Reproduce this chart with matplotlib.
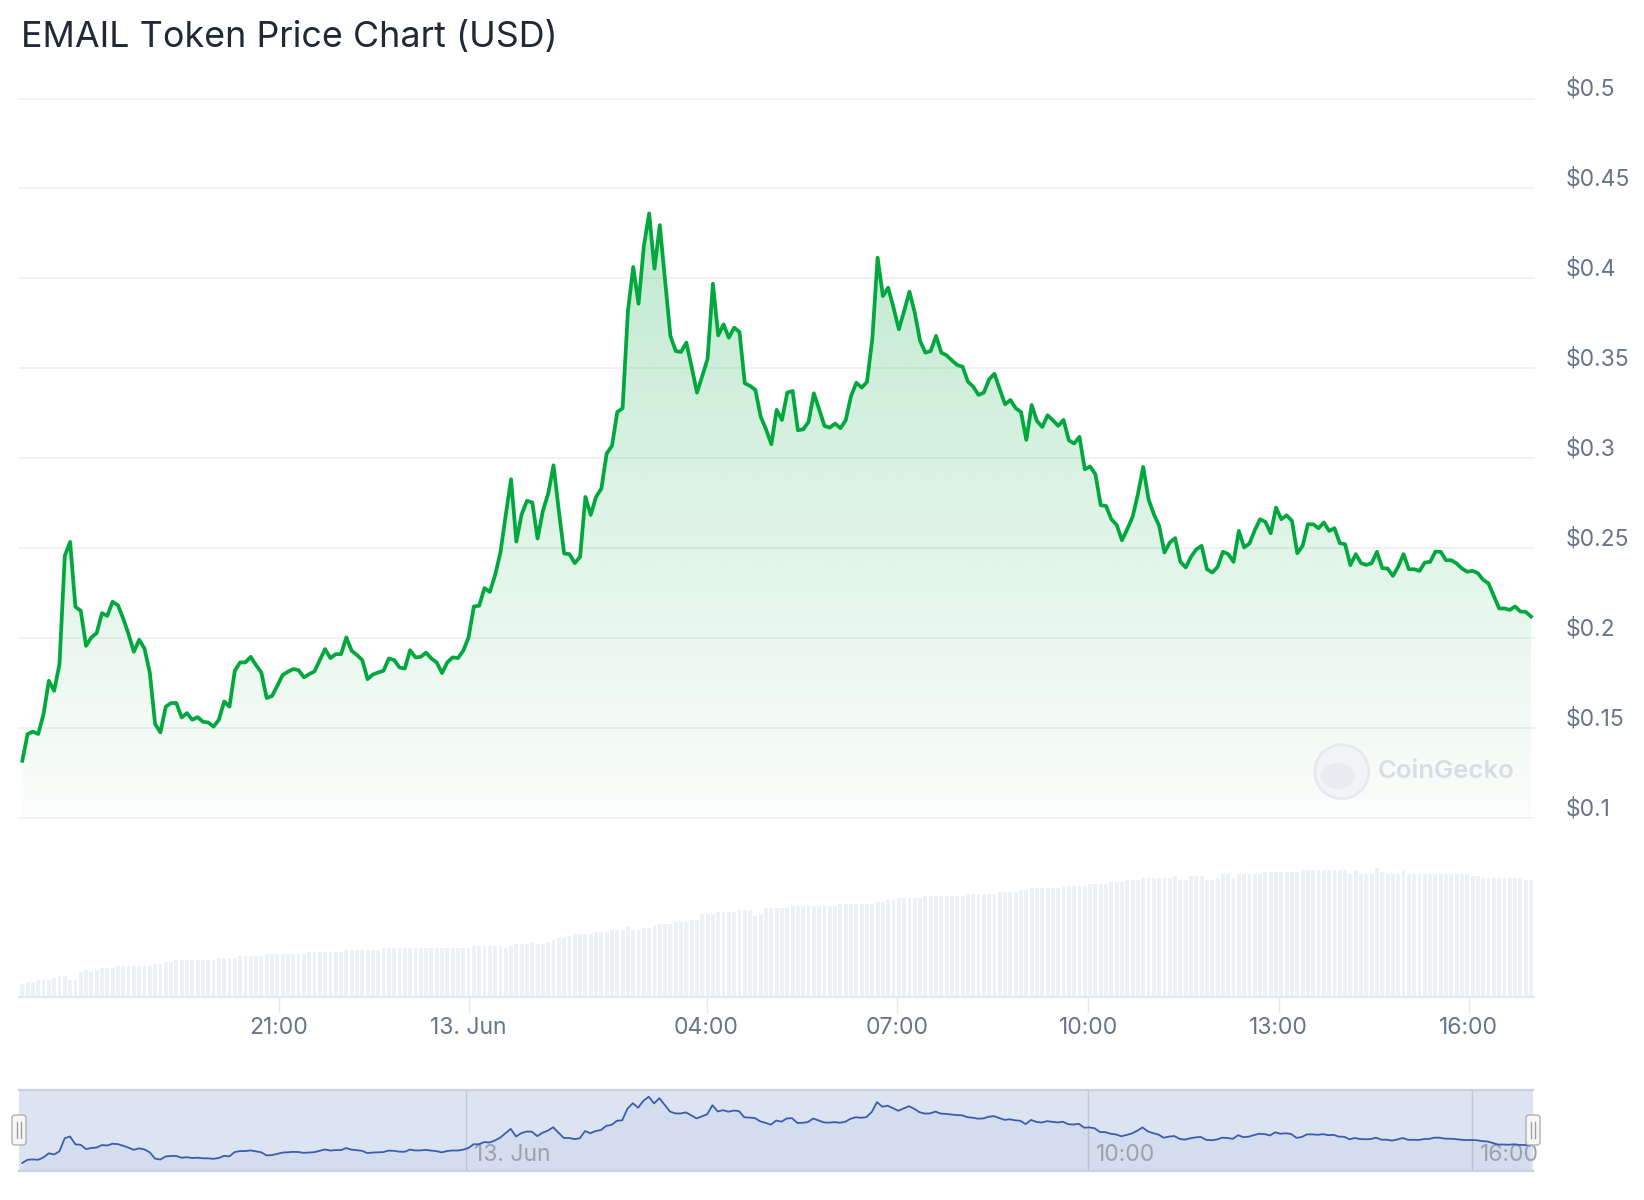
import numpy as np
import matplotlib
matplotlib.use('Agg')
import matplotlib.pyplot as plt
from matplotlib.patches import Rectangle, Ellipse, FancyBboxPatch
from matplotlib.lines import Line2D

plt.rcParams['font.family'] = ['Inter', 'DejaVu Sans']

TITLE = 'EMAIL Token Price Chart (USD)'

# 5-minute prices (USD)
price = [
    0.1318, 0.1467, 0.1480, 0.1467, 0.1578, 0.1763, 0.1707, 0.1856, 0.2457, 0.2535,
    0.2174, 0.2152, 0.1957, 0.2004, 0.2028, 0.2139, 0.2124, 0.2202, 0.2183, 0.2109,
    0.2022, 0.1924, 0.1991, 0.1942, 0.1809, 0.1522, 0.1476, 0.1619, 0.1639, 0.1639,
    0.1559, 0.1583, 0.1546, 0.1561, 0.1535, 0.1531, 0.1508, 0.1546, 0.1648, 0.1619,
    0.1819, 0.1865, 0.1865, 0.1896, 0.1850, 0.1809, 0.1667, 0.1678,
    0.1735, 0.1795, 0.1813, 0.1828, 0.1822, 0.1782, 0.1800, 0.1815, 0.1878, 0.1939,
    0.1889, 0.1911, 0.1911, 0.2004, 0.1930, 0.1906, 0.1878, 0.1772, 0.1798, 0.1809,
    0.1819, 0.1887, 0.1878, 0.1837, 0.1831, 0.1933, 0.1893, 0.1896, 0.1919, 0.1887,
    0.1865, 0.1806, 0.1865, 0.1893, 0.1889, 0.1930, 0.2004, 0.2176, 0.2180, 0.2278,
    0.2257, 0.2350, 0.2476, 0.2683, 0.2883, 0.2537, 0.2689, 0.2763,
    0.2754, 0.2554, 0.2708, 0.2804, 0.2961, 0.2708, 0.2470, 0.2467, 0.2417, 0.2452,
    0.2785, 0.2685, 0.2785, 0.2831, 0.3026, 0.3069, 0.3257, 0.3278, 0.3818, 0.4063,
    0.3859, 0.4180, 0.4361, 0.4054, 0.4296, 0.3985, 0.3680, 0.3596, 0.3591, 0.3643,
    0.3507, 0.3365, 0.3457, 0.3554, 0.3970, 0.3683, 0.3744, 0.3670, 0.3726, 0.3702,
    0.3417, 0.3402, 0.3380, 0.3231, 0.3161, 0.3078, 0.3269,
    0.3213, 0.3365, 0.3374, 0.3156, 0.3161, 0.3202, 0.3361, 0.3272, 0.3180, 0.3170,
    0.3193, 0.3167, 0.3211, 0.3346, 0.3420, 0.3393, 0.3424, 0.3661, 0.4115, 0.3902,
    0.3948, 0.3837, 0.3717, 0.3819, 0.3926, 0.3809, 0.3652, 0.3587, 0.3596, 0.3680,
    0.3587, 0.3572, 0.3544, 0.3518, 0.3509, 0.3426, 0.3398, 0.3352, 0.3365, 0.3439,
    0.3470, 0.3383, 0.3300, 0.3324, 0.3278, 0.3257, 0.3102, 0.3296,
    0.3207, 0.3174, 0.3239, 0.3211, 0.3180, 0.3213, 0.3100, 0.3082, 0.3119, 0.2939,
    0.2954, 0.2911, 0.2739, 0.2735, 0.2661, 0.2630, 0.2544, 0.2606, 0.2674, 0.2800,
    0.2952, 0.2772, 0.2689, 0.2624, 0.2476, 0.2531, 0.2556, 0.2424, 0.2393, 0.2452,
    0.2494, 0.2513, 0.2383, 0.2365, 0.2396, 0.2480, 0.2467, 0.2424, 0.2596, 0.2504,
    0.2526, 0.2600, 0.2661, 0.2646, 0.2583, 0.2726, 0.2661, 0.2683,
    0.2652, 0.2472, 0.2513, 0.2633, 0.2633, 0.2611, 0.2643, 0.2596, 0.2611, 0.2528,
    0.2522, 0.2406, 0.2467, 0.2417, 0.2407, 0.2417, 0.2480, 0.2389, 0.2387, 0.2346,
    0.2398, 0.2467, 0.2383, 0.2383, 0.2374, 0.2420, 0.2424, 0.2481, 0.2480, 0.2433,
    0.2433, 0.2415, 0.2387, 0.2369, 0.2374, 0.2361, 0.2324, 0.2304, 0.2235, 0.2165,
    0.2165, 0.2157, 0.2176, 0.2148, 0.2146, 0.2120,
]

# volume per 5-minute bar (arbitrary units, no axis shown)
volume = [
    127, 147, 147, 167, 167, 167, 187, 207, 207, 167,
    167, 247, 267, 247, 267, 287, 287, 287, 307, 307,
    307, 307, 307, 307, 307, 327, 327, 347, 347, 367,
    367, 367, 367, 367, 367, 367, 367, 387, 387, 387,
    387, 407, 407, 407, 407, 407, 427, 427, 427, 427,
    427, 427, 427, 427, 447, 447, 447, 447, 447, 447,
    447, 467, 467, 467, 467, 467, 467, 467, 487, 487,
    487, 487, 487, 487, 487, 487, 487, 487, 487, 487,
    487, 487, 487, 487, 487, 507, 507, 507, 507, 507,
    507, 487, 507, 527, 527, 527, 547, 527, 527, 547,
    567, 587, 587, 607, 627, 627, 627, 627, 647, 647,
    647, 667, 667, 667, 707, 667, 667, 687, 687, 707,
    727, 727, 727, 747, 747, 747, 767, 767, 827, 827,
    827, 847, 847, 847, 847, 867, 867, 867, 807, 827,
    887, 887, 887, 887, 887, 907, 907, 907, 907, 907,
    907, 907, 907, 907, 927, 927, 927, 927, 927, 927,
    927, 947, 947, 967, 967, 987, 987, 987, 987, 987,
    1007, 1007, 1007, 1007, 1007, 1007, 1007, 1007, 1027, 1027,
    1027, 1027, 1027, 1027, 1047, 1047, 1047, 1047, 1067, 1067,
    1087, 1087, 1087, 1087, 1087, 1087, 1107, 1107, 1107, 1107,
    1107, 1127, 1127, 1127, 1127, 1147, 1147, 1147, 1167, 1167,
    1167, 1187, 1187, 1187, 1187, 1187, 1187, 1207, 1167, 1167,
    1207, 1207, 1207, 1167, 1167, 1187, 1227, 1227, 1187, 1227,
    1227, 1227, 1227, 1227, 1247, 1247, 1247, 1247, 1247, 1247,
    1247, 1267, 1267, 1267, 1267, 1267, 1267, 1267, 1267, 1267,
    1227, 1267, 1227, 1227, 1227, 1283, 1247, 1227, 1227, 1227,
    1267, 1227, 1227, 1227, 1227, 1227, 1227, 1227, 1227, 1227,
    1227, 1227, 1227, 1207, 1207, 1187, 1187, 1187, 1187, 1187,
    1187, 1187, 1187, 1167, 1167,
]

# axis labels (x positions are point indices on the ordinal axis)
x_tick_idx = [48.3, 84.0, 128.8, 164.6, 200.7, 236.5, 272.3]
x_tick_labels = ['21:00', '13. Jun', '04:00', '07:00', '10:00', '13:00', '16:00']
y_ticks = [0.1, 0.15, 0.2, 0.25, 0.3, 0.35, 0.4, 0.45, 0.5]
y_tick_labels = ['\\$0.1', '\\$0.15', '\\$0.2', '\\$0.25', '\\$0.3',
                 '\\$0.35', '\\$0.4', '\\$0.45', '\\$0.5']
nav_tick_idx = [83.6, 200.8, 273.1]
nav_tick_labels = ['13. Jun', '10:00', '16:00']

W, H = 1644, 1200
GREEN = '#00a83e'
LABEL = '#66758c'
GRID = '#eceff3'

fig = plt.figure(figsize=(W / 100, H / 100), dpi=100)
fig.patch.set_facecolor('white')

idx = np.arange(len(price))
xl = (-0.62, len(price) - 1 + 0.56)


def box(x0, y0, x1, y1):
    # pixel box (top-left origin) -> figure fraction rect
    return [x0 / W, 1 - y1 / H, (x1 - x0) / W, (y1 - y0) / H]


fig.text(21 / W, 1 - 37 / H, TITLE, fontsize=25.8, color='#1f2937',
         ha='left', va='center')

# ---- price pane
ax = fig.add_axes(box(19, 98.5, 1534, 818))
ax.set_axis_off()
for v in y_ticks:
    ax.axhline(v, color=GRID, lw=1.1, zorder=0, clip_on=False)

pmax = max(price)
grad = np.zeros((256, 1, 4))
grad[..., 0], grad[..., 1], grad[..., 2] = 0 / 255, 168 / 255, 62 / 255
grad[:, 0, 3] = np.linspace(0.25, 0.02, 256)
im = ax.imshow(grad, extent=[xl[0], xl[1], 0.1, pmax], origin='upper',
               aspect='auto', zorder=1, interpolation='bilinear')
poly = ax.fill_between(idx, price, 0.1, facecolor='none', edgecolor='none')
im.set_clip_path(poly.get_paths()[0], transform=ax.transData)
ax.plot(idx, price, color=GREEN, lw=2.7, solid_joinstyle='round', zorder=3)
ax.set_xlim(*xl)
ax.set_ylim(0.1, 0.5)

for v, lab in zip(y_ticks, y_tick_labels):
    ax.annotate(lab, xy=(1, v), xycoords=('axes fraction', 'data'),
                xytext=(22.5, 6.5), textcoords='offset points',
                ha='left', va='center', fontsize=16.5, color=LABEL,
                annotation_clip=False)

# watermark
fig.add_artist(Ellipse((1341.7 / W, 1 - 771.7 / H), 54 / W, 54 / H,
                       transform=fig.transFigure, facecolor='#f1f3f6',
                       edgecolor='#e4e8ed', lw=2, alpha=0.9))
fig.add_artist(Ellipse((1338 / W, 1 - 776 / H), 34 / W, 26 / H,
                       transform=fig.transFigure, facecolor='#e8ecf0',
                       edgecolor='none', alpha=0.9))
fig.text(1378 / W, 1 - 771 / H, 'CoinGecko', fontsize=18.5, fontweight='semibold',
         color='#d7dde5', ha='left', va='center')

# ---- volume pane
axv = fig.add_axes(box(19, 818, 1534, 996.7))
axv.bar(idx, volume, width=0.72, color='#edf0f4', zorder=1)
axv.set_xlim(*xl)
axv.set_ylim(0, 1787)
for s in ['top', 'right', 'left']:
    axv.spines[s].set_visible(False)
axv.spines['bottom'].set_color('#e3e7ec')
axv.spines['bottom'].set_linewidth(1.5)
axv.set_yticks([])
axv.set_xticks(x_tick_idx, x_tick_labels)
axv.tick_params(axis='x', length=11.5, width=1, color='#e6e9ee',
                labelsize=16.5, labelcolor=LABEL, pad=3)
axv.patch.set_alpha(0)

# ---- navigator
axn = fig.add_axes(box(19, 1090, 1533, 1171))
axn.set_axis_off()
axn.add_patch(Rectangle((0, 0), 1, 1, transform=axn.transAxes,
                        facecolor=(102 / 255, 133 / 255, 194 / 255, 0.22),
                        edgecolor='none', zorder=0))
axn.plot([0, 1], [1, 1], transform=axn.transAxes, color='#c9d1e2', lw=1.6,
         clip_on=False, zorder=4)
axn.plot([0, 1], [0, 0], transform=axn.transAxes, color='#c9d1e2', lw=1.6,
         clip_on=False, zorder=4)
for xi, lab in zip(nav_tick_idx, nav_tick_labels):
    axn.axvline(xi, color='#c0c7d3', lw=1, zorder=1)
    axn.annotate(lab, xy=(xi, 0.2), xycoords=('data', 'axes fraction'),
                 xytext=(5.5, 0), textcoords='offset points', ha='left',
                 va='center', fontsize=16.5, color='#9ba2ad')
axn.fill_between(idx, price, 0.0, color='#335cad', alpha=0.05, lw=0, zorder=2)
axn.plot(idx, price, color='#3a5db0', lw=1.3, zorder=3)
axn.set_xlim(*xl)
axn.set_ylim(0.095, 0.467)

# navigator handles
for hx in (19, 1533):
    fig.add_artist(FancyBboxPatch(((hx - 7) / W, 1 - 1145 / H), 14 / W, 30 / H,
                                  boxstyle='round,pad=0,rounding_size=0.002',
                                  transform=fig.transFigure, facecolor='#f7f7f7',
                                  edgecolor='#b0b0b0', lw=1, zorder=5))
    for dx in (-2, 2):
        fig.add_artist(Line2D([(hx + dx) / W] * 2, [1 - 1122 / H, 1 - 1138 / H],
                              transform=fig.transFigure, color='#a0a0a0',
                              lw=1, zorder=6))

fig.savefig('out.png', dpi=100, facecolor='white')
